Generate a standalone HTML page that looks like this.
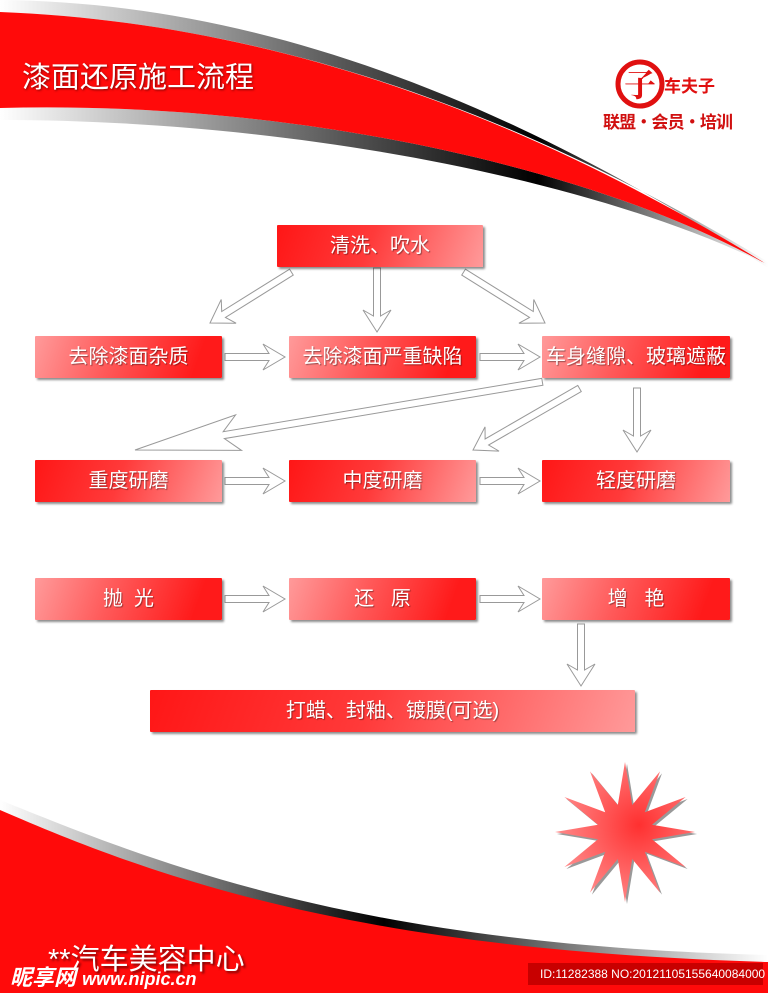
<!DOCTYPE html>
<html><head><meta charset="utf-8"><style>
body{margin:0;width:768px;height:993px;overflow:hidden;background:#fff;position:relative;font-family:"Liberation Sans","Noto Sans CJK SC",sans-serif}
svg{position:absolute;left:0;top:0}
.b{position:absolute;height:42px;color:#fff;font-size:20px;line-height:42px;text-align:center;box-shadow:2px 2px 2px rgba(0,0,0,.45);text-shadow:1px 1px 1px rgba(0,0,0,.4);border-radius:1px;white-space:nowrap}
.p{background:linear-gradient(110deg,#ff9a9a 0%,#ff5a5a 40%,#ff1a1a 85%)}
.r{background:linear-gradient(110deg,#ff1616 0%,#ff3a3a 45%,#ff9a9a 100%)}
</style></head><body>
<svg width="768" height="993" viewBox="0 0 768 993">
<defs>
<linearGradient id="gs" x1="0" y1="0" x2="1" y2="0"><stop offset="0" stop-color="#fff"/><stop offset=".45" stop-color="#555"/><stop offset=".7" stop-color="#000"/><stop offset="1" stop-color="#fff"/></linearGradient>
<linearGradient id="gb" x1="0" y1="0" x2="1" y2="0"><stop offset="0" stop-color="#fff"/><stop offset=".5" stop-color="#000"/><stop offset="1" stop-color="#fff"/></linearGradient>
<radialGradient id="st" cx=".6" cy=".45" r=".6"><stop offset="0" stop-color="#ff3030"/><stop offset="1" stop-color="#ff8a8a"/></radialGradient>
</defs>
<!-- top swoosh -->
<path d="M0,0 C230,2 480,80 768,268 L768,262 C500,100 250,22 0,12 Z" fill="url(#gs)"/>
<path d="M0,108 C300,100 600,170 768,265 C600,182 300,120 0,120 Z" fill="url(#gs)"/>
<path d="M0,12 C250,22 500,100 768,265 C600,170 300,100 0,108 Z" fill="#ff0a0a"/>
<!-- bottom swoosh -->
<path d="M0,800 C150,860 350,945 768,955 L768,993 L0,993 Z" fill="url(#gb)"/>
<path d="M0,810 C150,875 350,950 768,962 L768,993 L0,993 Z" fill="#ff0a0a"/>
<rect x="528" y="963" width="235" height="22" fill="#c80000"/>
<!-- star -->
<polygon transform="translate(2,2)" fill="#555" opacity=".6" points="695,832 652,839.2 685.6,867 644.8,851.8 660,892.6 632.2,859 625,902 617.8,859 590,892.6 605.2,851.8 564.4,867 598,839.2 555,832 598,824.8 564.4,797 605.2,812.2 590,771.4 617.8,805 625,762 632.2,805 660,771.4 644.8,812.2 685.6,797 652,824.8"/>
<polygon fill="url(#st)" points="695,832 652,839.2 685.6,867 644.8,851.8 660,892.6 632.2,859 625,902 617.8,859 590,892.6 605.2,851.8 564.4,867 598,839.2 555,832 598,824.8 564.4,797 605.2,812.2 590,771.4 617.8,805 625,762 632.2,805 660,771.4 644.8,812.2 685.6,797 652,824.8"/>
<!-- logo -->
<circle cx="640" cy="84" r="22" fill="none" stroke="#e01010" stroke-width="5"/>
<text x="640" y="96" font-size="32" font-weight="bold" fill="#e01010" text-anchor="middle" font-family="Liberation Serif,Noto Serif CJK SC,serif">子</text>
<text x="664" y="92" font-size="17" font-weight="bold" fill="#e01010" font-family="Noto Sans CJK SC,sans-serif">车夫子</text>
<text x="603" y="128" font-size="17" font-weight="bold" fill="#d01010" font-family="Noto Sans CJK SC,sans-serif" textLength="130">联盟·会员·培训</text>
</svg>
<svg width="768" height="993" viewBox="0 0 768 993">
<g transform="translate(285,357)"><polygon points="-60,-3.5 -16,-3.5 -22,-13 0,0 -22,13 -16,3.5 -60,3.5" fill="#fff" stroke="#999"/></g>
<g transform="translate(540,357)"><polygon points="-60,-3.5 -16,-3.5 -22,-13 0,0 -22,13 -16,3.5 -60,3.5" fill="#fff" stroke="#999"/></g>
<g transform="translate(285,481)"><polygon points="-60,-3.5 -16,-3.5 -22,-13 0,0 -22,13 -16,3.5 -60,3.5" fill="#fff" stroke="#999"/></g>
<g transform="translate(540,481)"><polygon points="-60,-3.5 -16,-3.5 -22,-13 0,0 -22,13 -16,3.5 -60,3.5" fill="#fff" stroke="#999"/></g>
<g transform="translate(285,599)"><polygon points="-60,-3.5 -16,-3.5 -22,-13 0,0 -22,13 -16,3.5 -60,3.5" fill="#fff" stroke="#999"/></g>
<g transform="translate(540,599)"><polygon points="-60,-3.5 -16,-3.5 -22,-13 0,0 -22,13 -16,3.5 -60,3.5" fill="#fff" stroke="#999"/></g>
<g transform="translate(377,332) rotate(90)"><polygon points="-64,-3.5 -16,-3.5 -22,-14 0,0 -22,14 -16,3.5 -64,3.5" fill="#fff" stroke="#999"/></g>
<g transform="translate(637,452) rotate(90)"><polygon points="-64,-3.5 -16,-3.5 -22,-14 0,0 -22,14 -16,3.5 -64,3.5" fill="#fff" stroke="#999"/></g>
<g transform="translate(581,686) rotate(90)"><polygon points="-62,-3.5 -16,-3.5 -22,-14 0,0 -22,14 -16,3.5 -62,3.5" fill="#fff" stroke="#999"/></g>
<g transform="translate(210,323) rotate(148)"><polygon points="-96,-3.5 -16,-3.5 -22,-14 0,0 -22,14 -16,3.5 -96,3.5" fill="#fff" stroke="#999"/></g>
<g transform="translate(545,323) rotate(32)"><polygon points="-96,-3.5 -16,-3.5 -22,-14 0,0 -22,14 -16,3.5 -96,3.5" fill="#fff" stroke="#999"/></g>
<g transform="translate(473,450) rotate(150)"><polygon points="-123,-3.5 -16,-3.5 -22,-14 0,0 -22,14 -16,3.5 -123,3.5" fill="#fff" stroke="#999"/></g>
<g transform="translate(135,450) rotate(170.5)"><polygon points="-413,-3.5 -90,-3.5 -105,-18 0,0 -105,18 -90,3.5 -413,3.5" fill="#fff" stroke="#999"/></g>
</svg>
<div style="position:absolute;left:22px;top:54px;color:#fff;font-size:29px;text-shadow:1px 1px 2px rgba(0,0,0,.5)">漆面还原施工流程</div>
<div class="b r" style="left:277px;top:225px;width:206px">清洗、吹水</div>
<div class="b p" style="left:35px;top:336px;width:187px">去除漆面杂质</div>
<div class="b p" style="left:289px;top:336px;width:187px">去除漆面严重缺陷</div>
<div class="b p" style="left:542px;top:336px;width:188px">车身缝隙、玻璃遮蔽</div>
<div class="b r" style="left:35px;top:460px;width:187px">重度研磨</div>
<div class="b r" style="left:289px;top:460px;width:187px">中度研磨</div>
<div class="b r" style="left:542px;top:460px;width:188px">轻度研磨</div>
<div class="b p" style="left:35px;top:578px;width:187px">抛&nbsp;&nbsp;光</div>
<div class="b p" style="left:289px;top:578px;width:187px">还&nbsp;&nbsp;&nbsp;原</div>
<div class="b p" style="left:542px;top:578px;width:188px">增&nbsp;&nbsp;&nbsp;艳</div>
<div class="b r" style="left:150px;top:690px;width:485px">打蜡、封釉、镀膜(可选)</div>
<div style="position:absolute;left:48px;top:936px;color:#fff;font-size:29px;text-shadow:2px 2px 2px rgba(0,0,0,.5)">**汽车美容中心</div>
<div style="position:absolute;left:10px;top:960px;color:#fff;font-size:22px;font-weight:bold;font-style:italic">昵享网 <span style="font-size:18px">www.nipic.cn</span></div>
<div style="position:absolute;left:540px;top:965px;color:#fff;font-size:12px;line-height:18px">ID:11282388 NO:20121105155640084000</div>
</body></html>
